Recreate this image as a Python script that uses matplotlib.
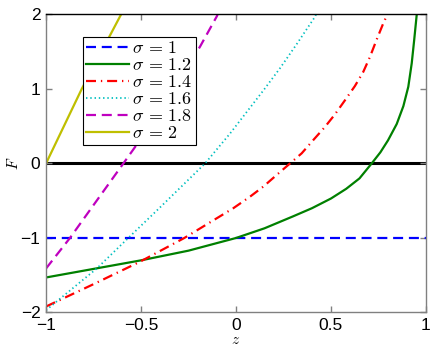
import matplotlib
matplotlib.use("Agg")
import matplotlib.pyplot as plt

plt.rcParams['mathtext.fontset'] = 'cm'
plt.rcParams['font.family'] = ['Liberation Sans', 'DejaVu Sans']

# Data
z_s10 = [-1.0, 1.0]
F_s10 = [-1.0, -1.0]

z_s12 = [-1.0, -0.75, -0.5, -0.25, 0.0, 0.15, 0.3, 0.4, 0.5, 0.58, 0.65, 0.714, 0.76, 0.80,
         0.846, 0.881, 0.907, 0.925, 0.938, 0.951, 0.96]
F_s12 = [-1.53, -1.415, -1.3, -1.17, -1.0, -0.87, -0.71, -0.6, -0.47, -0.34, -0.2, 0.0, 0.15, 0.31,
         0.53, 0.77, 1.03, 1.345, 1.658, 1.99, 2.2]

z_s14 = [-1.0, -0.75, -0.505, -0.272, -0.014, 0.074, 0.144, 0.214, 0.284, 0.346, 0.407, 0.468,
         0.521, 0.574, 0.626, 0.67, 0.705, 0.74, 0.775, 0.793, 0.80]
F_s14 = [-1.92, -1.62, -1.318, -1.0, -0.6, -0.445, -0.31, -0.154, 0.0, 0.137, 0.315, 0.49,
         0.66, 0.85, 1.04, 1.23, 1.43, 1.66, 1.88, 1.98, 2.05]

z_s16 = [-1.0, -0.733, -0.567, -0.404, -0.163, -0.032, 0.144, 0.232, 0.319, 0.416, 0.43]
F_s16 = [-1.97, -1.41, -1.0, -0.6, 0.0, 0.40, 0.98, 1.28, 1.6, 1.97, 2.05]

z_s18 = [-1.0, -0.874, -0.593, -0.505, -0.35, -0.189, -0.1, -0.09]
F_s18 = [-1.41, -1.0, 0.0, 0.315, 0.9, 1.57, 1.98, 2.05]

z_s20 = [-1.0, -0.812, -0.605, -0.6]
F_s20 = [0.0, 1.0, 2.0, 2.03]

labels = [r'$\sigma\,=\,1$', r'$\sigma\,=\,1.2$', r'$\sigma\,=\,1.4$',
          r'$\sigma\,=\,1.6$', r'$\sigma\,=\,1.8$', r'$\sigma\,=\,2$']

xticks = [-1, -0.5, 0, 0.5, 1]
xticklabels = ['\u22121', '\u22120.5', '0', '0.5', '1']
yticks = [-2, -1, 0, 1, 2]
yticklabels = ['\u22122', '\u22121', '0', '1', '2']

fig = plt.figure(figsize=(4.36, 3.51), dpi=100)
ax = fig.add_axes([0.1055, 0.1097, 0.8715, 0.849])

ax.axhline(0, color='black', lw=2.2, zorder=1)

lw = 1.6
ax.plot(z_s10, F_s10, color=(0, 0, 1), lw=lw, linestyle=(0, (4.5, 2.6)), label=labels[0])
ax.plot(z_s12, F_s12, color=(0, 0.5, 0), lw=lw, linestyle='-', label=labels[1])
ax.plot(z_s14, F_s14, color=(1, 0, 0), lw=lw, linestyle=(0, (4.5, 2.2, 0.6, 2.2)), label=labels[2])
ax.plot(z_s16, F_s16, color=(0, 0.75, 0.75), lw=lw * 0.8, linestyle=(0, (0.8, 1.6)), label=labels[3])
ax.plot(z_s18, F_s18, color=(0.75, 0, 0.75), lw=lw, linestyle=(0, (4.5, 2.6)), label=labels[4])
ax.plot(z_s20, F_s20, color=(0.75, 0.75, 0), lw=lw, linestyle='-', label=labels[5])

ax.set_xlim(-1, 1)
ax.set_ylim(-2, 2)
ax.set_xticks(xticks)
ax.set_xticklabels(xticklabels)
ax.set_yticks(yticks)
ax.set_yticklabels(yticklabels)
ax.tick_params(direction='in', length=4, width=1, color='#808080', labelsize=12.5, top=True, right=True, pad=4)

for side in ['left', 'bottom', 'right']:
    ax.spines[side].set_color('#808080')
ax.spines['top'].set_color('black')
for s in ax.spines.values():
    s.set_linewidth(1.0)

ax.set_xlabel(r'$z$', fontsize=11, labelpad=0)
ax.set_ylabel(r'$F$', fontsize=11, labelpad=0)

leg = ax.legend(loc='upper left', bbox_to_anchor=(0.0966, 0.9255), borderaxespad=0,
                fontsize=13, handlelength=2.4, handletextpad=0.15, labelspacing=0.0,
                borderpad=0.18, fancybox=False, framealpha=1, edgecolor='black')
leg.get_frame().set_linewidth(0.8)

fig.savefig('out.png', dpi=100)
